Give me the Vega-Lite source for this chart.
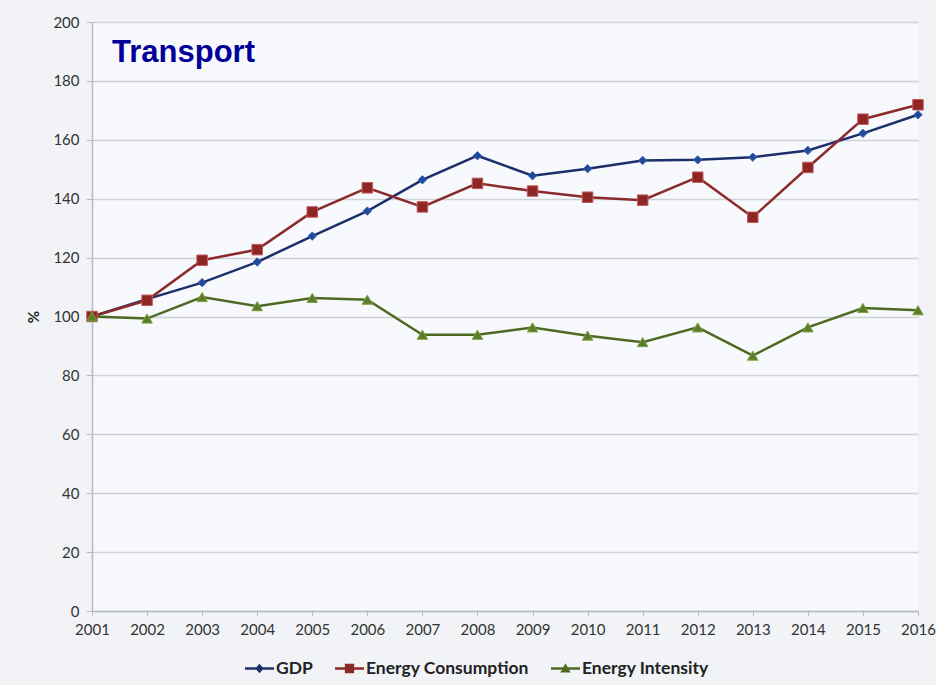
{
  "$schema": "https://vega.github.io/schema/vega-lite/v6.json",
  "autosize": {"type": "none"},
  "width": 826,
  "height": 589,
  "padding": {"left": 92, "top": 22, "right": 18, "bottom": 74},
  "background": "#f1f3f6",
  "title": {
    "text": "Transport",
    "anchor": "start",
    "frame": "group",
    "orient": "top",
    "font": "Liberation Sans",
    "fontSize": 31,
    "fontWeight": "bold",
    "color": "#000099",
    "baseline": "alphabetic",
    "offset": 0,
    "dx": 20,
    "dy": 78
  },
  "config": {
    "view": {"fill": "#f7f9fc", "stroke": null},
    "axis": {
      "labelFont": "Lato",
      "labelFontSize": 15,
      "labelColor": "#333333",
      "titleFont": "Lato",
      "domainColor": "#b8bbbf",
      "tickColor": "#b8bbbf",
      "gridColor": "#cfd2d6",
      "gridWidth": 1.5,
      "domainWidth": 1.5
    }
  },
  "data": {
    "values": [
      {"year": 2001, "series": "GDP", "value": 100},
      {"year": 2002, "series": "GDP", "value": 105.9},
      {"year": 2003, "series": "GDP", "value": 111.5},
      {"year": 2004, "series": "GDP", "value": 118.5},
      {"year": 2005, "series": "GDP", "value": 127.3},
      {"year": 2006, "series": "GDP", "value": 135.8},
      {"year": 2007, "series": "GDP", "value": 146.4},
      {"year": 2008, "series": "GDP", "value": 154.6},
      {"year": 2009, "series": "GDP", "value": 147.8},
      {"year": 2010, "series": "GDP", "value": 150.2},
      {"year": 2011, "series": "GDP", "value": 153.0},
      {"year": 2012, "series": "GDP", "value": 153.2},
      {"year": 2013, "series": "GDP", "value": 154.1},
      {"year": 2014, "series": "GDP", "value": 156.4},
      {"year": 2015, "series": "GDP", "value": 162.2},
      {"year": 2016, "series": "GDP", "value": 168.5},
      {"year": 2001, "series": "Energy Consumption", "value": 100},
      {"year": 2002, "series": "Energy Consumption", "value": 105.5},
      {"year": 2003, "series": "Energy Consumption", "value": 119.1},
      {"year": 2004, "series": "Energy Consumption", "value": 122.7},
      {"year": 2005, "series": "Energy Consumption", "value": 135.5},
      {"year": 2006, "series": "Energy Consumption", "value": 143.7},
      {"year": 2007, "series": "Energy Consumption", "value": 137.2},
      {"year": 2008, "series": "Energy Consumption", "value": 145.2},
      {"year": 2009, "series": "Energy Consumption", "value": 142.6},
      {"year": 2010, "series": "Energy Consumption", "value": 140.5},
      {"year": 2011, "series": "Energy Consumption", "value": 139.5},
      {"year": 2012, "series": "Energy Consumption", "value": 147.3},
      {"year": 2013, "series": "Energy Consumption", "value": 133.7},
      {"year": 2014, "series": "Energy Consumption", "value": 150.6},
      {"year": 2015, "series": "Energy Consumption", "value": 167.0},
      {"year": 2016, "series": "Energy Consumption", "value": 171.9},
      {"year": 2001, "series": "Energy Intensity", "value": 100},
      {"year": 2002, "series": "Energy Intensity", "value": 99.3},
      {"year": 2003, "series": "Energy Intensity", "value": 106.6},
      {"year": 2004, "series": "Energy Intensity", "value": 103.5},
      {"year": 2005, "series": "Energy Intensity", "value": 106.3},
      {"year": 2006, "series": "Energy Intensity", "value": 105.7},
      {"year": 2007, "series": "Energy Intensity", "value": 93.8},
      {"year": 2008, "series": "Energy Intensity", "value": 93.8},
      {"year": 2009, "series": "Energy Intensity", "value": 96.3},
      {"year": 2010, "series": "Energy Intensity", "value": 93.5},
      {"year": 2011, "series": "Energy Intensity", "value": 91.3},
      {"year": 2012, "series": "Energy Intensity", "value": 96.3},
      {"year": 2013, "series": "Energy Intensity", "value": 86.7},
      {"year": 2014, "series": "Energy Intensity", "value": 96.3},
      {"year": 2015, "series": "Energy Intensity", "value": 102.9},
      {"year": 2016, "series": "Energy Intensity", "value": 102.1}
    ]
  },
  "encoding": {
    "x": {
      "field": "year",
      "type": "quantitative",
      "scale": {"domain": [2001, 2016], "nice": false, "zero": false},
      "axis": {
        "title": null,
        "values": [2001, 2002, 2003, 2004, 2005, 2006, 2007, 2008, 2009, 2010, 2011, 2012, 2013, 2014, 2015, 2016],
        "format": "d",
        "grid": false,
        "tickSize": 5,
        "labelPadding": 6,
        "labelFlush": false,
        "labelOverlap": false
      }
    },
    "y": {
      "field": "value",
      "type": "quantitative",
      "scale": {"domain": [0, 200], "nice": false},
      "axis": {
        "title": "%",
        "titleFontSize": 15,
        "titleFontWeight": "bold",
        "titleColor": "#222222",
        "titlePadding": 11,
        "values": [0, 20, 40, 60, 80, 100, 120, 140, 160, 180, 200],
        "tickSize": 6,
        "labelPadding": 7,
        "grid": true
      }
    }
  },
  "layer": [
    {
      "mark": {"type": "line", "strokeWidth": 2.5},
      "encoding": {
        "color": {
          "field": "series",
          "type": "nominal",
          "sort": ["GDP", "Energy Consumption", "Energy Intensity"],
          "scale": {
            "domain": ["GDP", "Energy Consumption", "Energy Intensity"],
            "range": ["#1c2f6b", "#8a2a2a", "#4e6a22"]
          },
          "legend": {
            "orient": "none",
            "legendX": 153,
            "legendY": 632,
            "direction": "horizontal",
            "title": null,
            "symbolSize": 840,
            "labelFont": "Lato",
            "labelFontSize": 17.5,
            "labelFontWeight": "bold",
            "labelColor": "#222222",
            "labelLimit": 0,
            "labelOffset": 2,
            "columnPadding": 22,
            "padding": 0,
            "encode": {
              "symbols": {
                "update": {
                  "shape": {"signal": "datum.value === 'GDP' ? 'M-1,-0.09H1V0.09H-1ZM0,-0.32L0.29,0L0,0.32L-0.29,0Z' : datum.value === 'Energy Consumption' ? 'M-1,-0.09H1V0.09H-1ZM-0.32,-0.32H0.32V0.32H-0.32Z' : 'M-1,-0.09H1V0.09H-1ZM0,-0.36L0.36,0.28H-0.36Z'"},
                  "size": {"value": 840},
                  "fill": {"signal": "datum.value === 'GDP' ? '#1c2f6b' : datum.value === 'Energy Consumption' ? '#8a2a2a' : '#4e6a22'"},
                  "fillOpacity": {"value": 1},
                  "strokeWidth": {"value": 0}
                }
              }
            }
          }
        }
      }
    },
    {
      "transform": [{"filter": "datum.series === 'GDP'"}],
      "mark": {"type": "point", "shape": "diamond", "size": 70, "filled": true, "opacity": 1, "fill": "#1f4b9a", "stroke": "#3a5fb0", "strokeWidth": 1}
    },
    {
      "transform": [{"filter": "datum.series === 'Energy Consumption'"}],
      "mark": {"type": "point", "shape": "square", "size": 110, "filled": true, "opacity": 1, "fill": "#8e2626", "stroke": "#c05a5a", "strokeWidth": 1}
    },
    {
      "transform": [{"filter": "datum.series === 'Energy Intensity'"}],
      "mark": {"type": "point", "shape": "triangle-up", "size": 110, "filled": true, "opacity": 1, "fill": "#5b7d2a", "stroke": "#7fa040", "strokeWidth": 1}
    }
  ]
}
